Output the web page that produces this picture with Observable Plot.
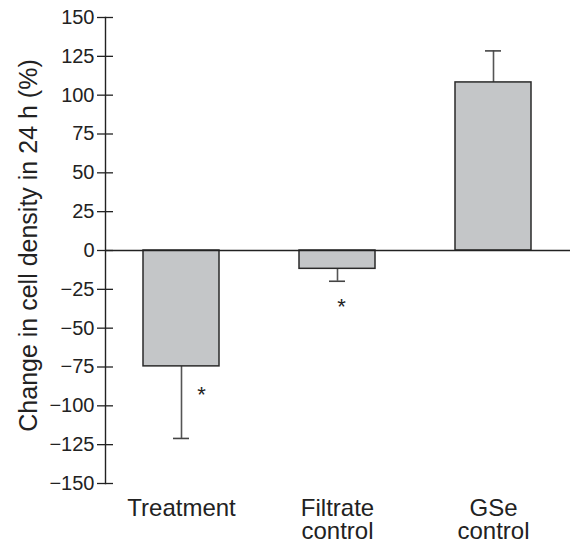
<!DOCTYPE html>
<html>
<head>
<meta charset="utf-8">
<script src="https://cdn.jsdelivr.net/npm/d3@7"></script>
<script src="https://cdn.jsdelivr.net/npm/@observablehq/plot@0.6"></script>
<style>
  html, body { margin: 0; padding: 0; background: #fff; }
</style>
</head>
<body>
<div id="chart"></div>
<script>
const categories = ["Treatment", "Filtrate control", "GSe control"];
const categoryLabels = ["Treatment", "Filtrate\ncontrol", "GSe\ncontrol"];
const values = [-74.6, -11.8, 108.2];
const errorEnds = [-121, -19.8, 128.5];
const asteriskCategories = ["Treatment", "Filtrate control"];
const asteriskY = [-92, -35];
const yTicks = [-150, -125, -100, -75, -50, -25, 0, 25, 50, 75, 100, 125, 150];
const yLabel = "Change in cell density in 24 h (%)";

const data = categories.map((c, i) => ({cat: c, value: values[i], err: errorEnds[i]}));
const stars = asteriskCategories.map((c, i) => ({cat: c, y: asteriskY[i]}));

const font = "'Liberation Sans', Arial, Helvetica, sans-serif";
const ink = "#222";

const chart = Plot.plot({
  width: 570,
  height: 543,
  marginTop: 17,
  marginBottom: 60,
  marginLeft: 105,
  marginRight: 0,
  style: {fontFamily: font, color: ink, background: "#fff", overflow: "visible"},
  x: {domain: categories, paddingInner: 0.512, paddingOuter: 0.24, label: null},
  y: {domain: [-150, 150], label: null},
  marks: [
    Plot.ruleX(data, {x: "cat", y1: "value", y2: "err", stroke: "#555", strokeWidth: 1.6}),
    Plot.tickY(data, {x: "cat", y: "err", stroke: "#444", strokeWidth: 1.6, insetLeft: 30, insetRight: 30}),
    Plot.barY(data, {x: "cat", y: "value", fill: "#c4c6c8", stroke: "#2a2a2a", strokeWidth: 1.5}),
    Plot.ruleY([0], {stroke: ink, strokeWidth: 1.4}),
    Plot.frame({anchor: "left", stroke: ink, strokeWidth: 1.4}),
    Plot.axisY({ticks: yTicks, tickSize: 16, dx: 8, tickPadding: 3, fontSize: 20, label: null, stroke: ink, strokeWidth: 1.3, fill: ink}),
    Plot.axisX({tickSize: 0, tickPadding: 16, fontSize: 24, lineHeight: 0.96, label: null, fill: ink,
      tickFormat: d => categoryLabels[categories.indexOf(d)]}),
    Plot.text(stars.slice(0, 1), {x: "cat", y: "y", text: () => "*", dx: 20, dy: 2, fontSize: 22, fill: ink}),
    Plot.text(stars.slice(1, 2), {x: "cat", y: "y", text: () => "*", dx: 4, dy: 2, fontSize: 22, fill: ink}),
    Plot.text([yLabel], {frameAnchor: "left", textAnchor: "middle", lineAnchor: "middle", rotate: -90, dx: -77, dy: -5, fontSize: 25, fill: ink})
  ]
});
document.getElementById("chart").appendChild(chart);
</script>
</body>
</html>
